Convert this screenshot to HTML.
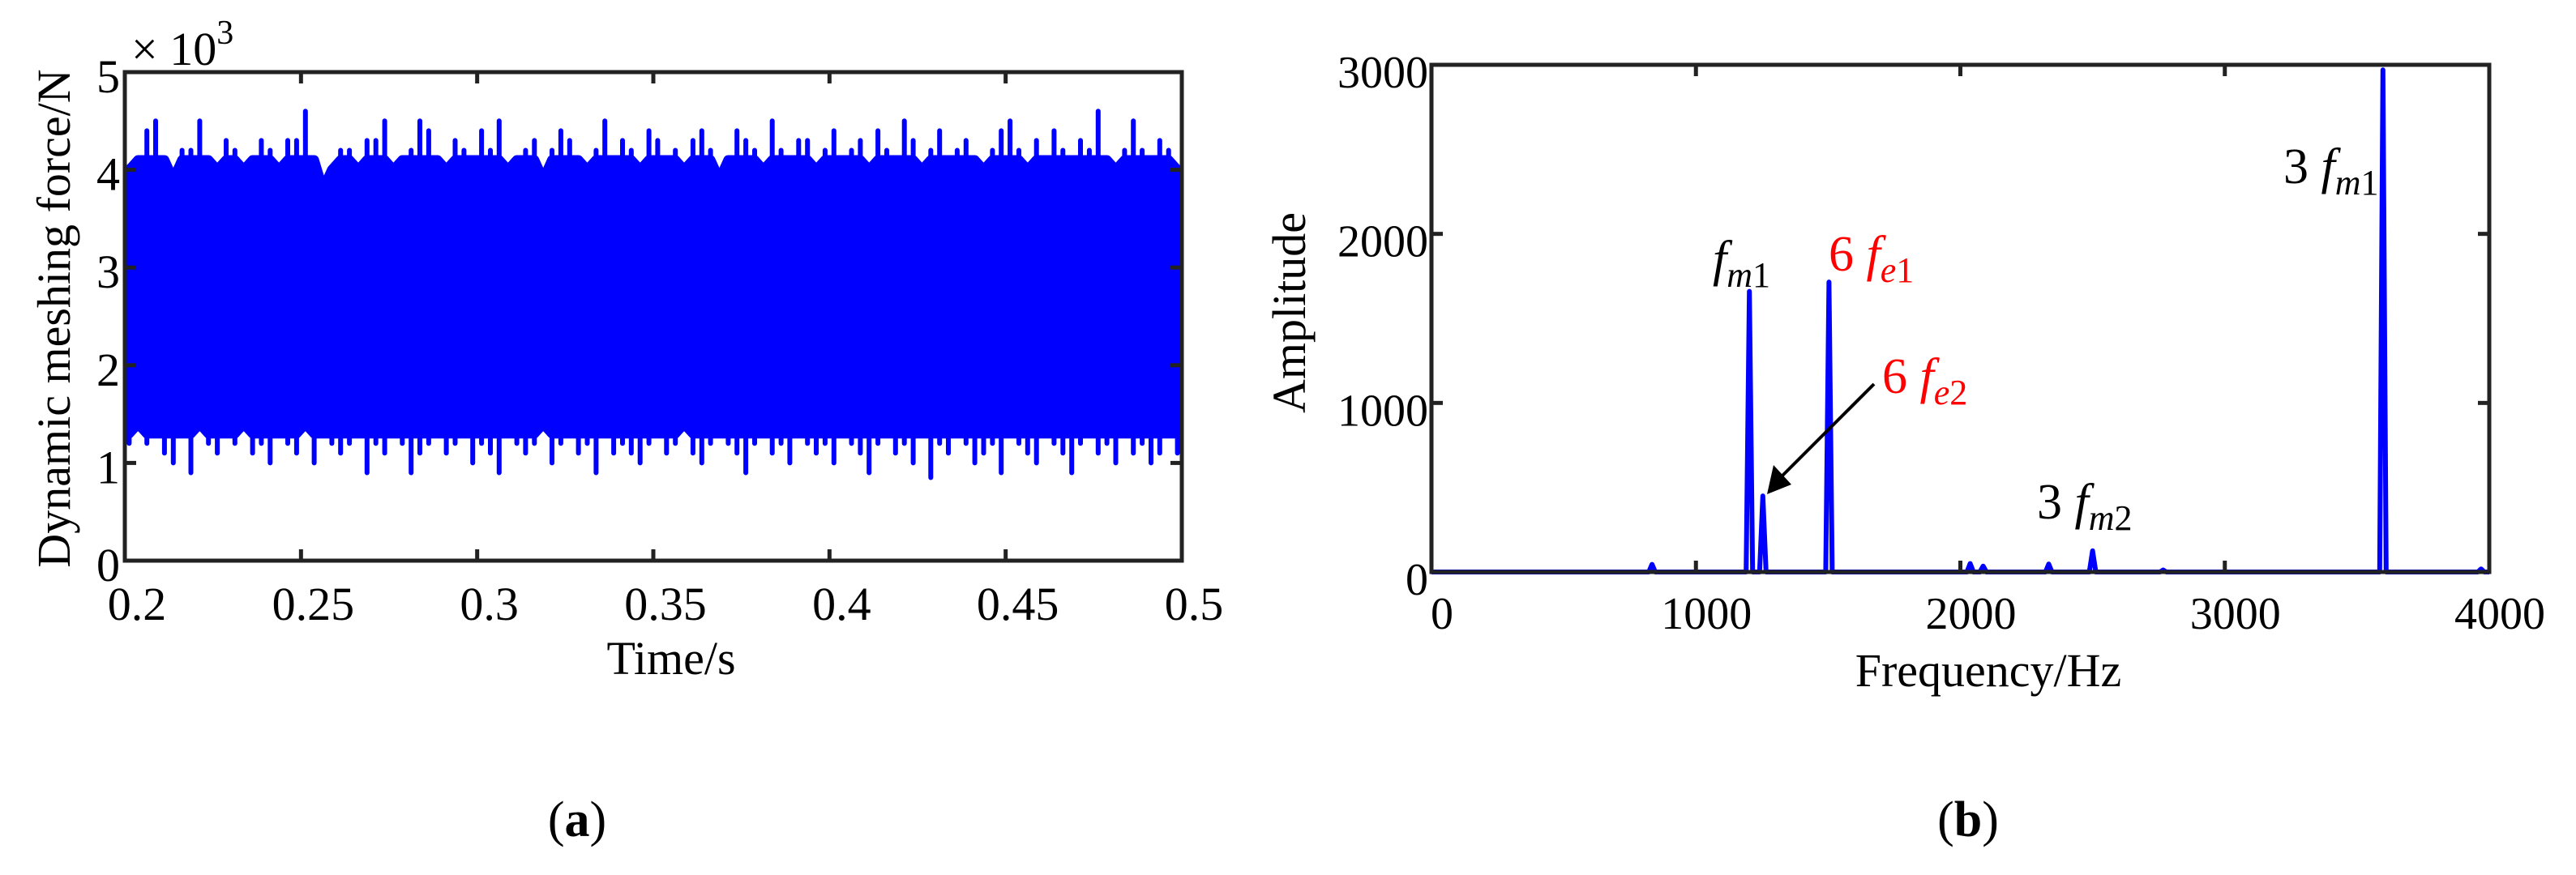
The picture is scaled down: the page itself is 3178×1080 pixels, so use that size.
<!DOCTYPE html>
<html><head><meta charset="utf-8">
<style>
html,body{margin:0;padding:0;background:#fff;}
svg{display:block;font-family:"Liberation Serif","Times New Roman",serif;}
svg text{font-family:"Liberation Serif","Times New Roman",serif;}
</style></head>
<body>
<svg id="fig" width="3178" height="1080" viewBox="0 0 3178 1080" xmlns="http://www.w3.org/2000/svg">
  <g id="panelA"></g>
  <g id="panelB"></g>
  <text x="712" y="1032" font-size="62" text-anchor="middle">(<tspan font-weight="bold">a</tspan>)</text>
  <text x="2428" y="1032" font-size="62" text-anchor="middle">(<tspan font-weight="bold">b</tspan>)</text>
</svg>
<script>
// ---------- Panel (a) data ----------
const aXTicks = [0.2, 0.25, 0.3, 0.35, 0.4, 0.45, 0.5];
const aXTickLabels = ["0.2", "0.25", "0.3", "0.35", "0.4", "0.45", "0.5"];
const aYTicks = [0, 1, 2, 3, 4, 5];
const aYTickLabels = ["0", "1", "2", "3", "4", "5"];
const aUpper = [4.0,4.1,4.4,4.5,4.1,3.9,4.2,4.2,4.5,4.1,4.0,4.3,4.2,4.0,4.1,4.3,4.2,4.0,4.3,4.3,4.6,4.1,3.8,4.0,4.2,4.2,4.0,4.3,4.3,4.5,4.0,4.1,4.2,4.5,4.4,4.1,4.0,4.3,4.2,4.1,
4.4,4.2,4.5,4.0,4.1,4.2,4.3,3.9,4.2,4.4,4.3,4.1,4.0,4.2,4.5,4.1,4.3,4.2,4.0,4.4,4.3,4.1,4.2,4.0,4.3,4.4,4.2,3.9,4.1,4.4,4.3,4.2,4.0,4.5,4.2,4.1,4.3,4.3,4.0,4.2,
4.4,4.1,4.2,4.3,4.0,4.4,4.2,4.1,4.5,4.3,4.0,4.2,4.4,4.1,4.2,4.3,4.1,4.0,4.2,4.4,4.5,4.2,4.0,4.3,4.1,4.4,4.2,4.1,4.3,4.2,4.6,4.1,4.0,4.2,4.5,4.2,4.1,4.3,4.2,4.0];
const aLower = [1.2,1.4,1.2,1.3,1.1,1.0,1.3,0.9,1.4,1.2,1.1,1.3,1.2,1.4,1.1,1.2,1.0,1.3,1.2,1.1,1.4,1.0,1.3,1.2,1.1,1.2,1.3,0.9,1.2,1.1,1.3,1.2,0.9,1.1,1.2,1.3,1.1,1.2,1.3,1.0,
1.2,1.1,0.9,1.3,1.2,1.1,1.2,1.4,1.0,1.2,1.3,1.1,1.2,0.9,1.3,1.1,1.2,1.1,1.0,1.2,1.3,1.1,1.2,1.4,1.1,1.0,1.2,1.3,1.2,1.1,0.9,1.2,1.3,1.1,1.2,1.0,1.3,1.2,1.1,1.2,
1.0,1.3,1.2,1.1,0.9,1.2,1.3,1.1,1.2,1.0,1.3,0.85,1.2,1.1,1.3,1.2,1.0,1.1,1.2,0.9,1.3,1.2,1.1,1.0,1.3,1.2,1.1,0.9,1.2,1.3,1.1,1.2,1.0,1.3,1.1,1.2,1.0,1.1,1.3,1.1];

// ---------- Panel (b) data ----------
const bXTicks = [0, 1000, 2000, 3000, 4000];
const bXTickLabels = ["0", "1000", "2000", "3000", "4000"];
const bYTicks = [0, 1000, 2000, 3000];
const bYTickLabels = ["0", "1000", "2000", "3000"];
const bPeakFreqs = [834, 1202, 1253, 1503, 2037, 2086, 2334, 2500, 2767, 3598, 3969];
const bPeakAmps  = [45, 1660, 450, 1715, 50, 35, 47, 125, 12, 2970, 18];

const NS = "http://www.w3.org/2000/svg";
function mk(tag, attrs, parent, text) {
  const e = document.createElementNS(NS, tag);
  for (const k in attrs) e.setAttribute(k, attrs[k]);
  if (text !== undefined) e.textContent = text;
  parent.appendChild(e);
  return e;
}

// ===== Panel A =====
(function(){
  const g = document.getElementById('panelA');
  const L = 154, R = 1458, T = 89, B = 692;
  const x = t => L + (t - 0.2) / 0.3 * (R - L);
  const y = v => B - v / 5 * (B - T);
  const n = aUpper.length;
  const step = (R - L) / n;
  let d = "";
  for (let i = 0; i < n; i++) {
    const xx = L + (i + 0.5) * step;
    d += (i ? " L" : "M") + xx.toFixed(1) + "," + y(Math.min(aUpper[i], 4.1)).toFixed(1);
  }
  for (let i = n - 1; i >= 0; i--) {
    const xx = L + (i + 0.5) * step;
    d += " L" + xx.toFixed(1) + "," + y(Math.max(aLower[i], 1.3)).toFixed(1);
  }
  d += " Z";
  const body = mk('path', {d: d, fill: '#0000ff', stroke: '#0000ff', 'stroke-width': 12, 'stroke-linejoin': 'round'}, g);
  
  
  let s = "";
  for (let i = 0; i < n; i++) {
    const xx = (L + (i + 0.5) * step).toFixed(1);
    s += " M" + xx + "," + y(aUpper[i]).toFixed(1) + " L" + xx + "," + y(aLower[i]).toFixed(1);
  }
  const sig = mk('path', {d: s, fill: 'none', stroke: '#0000ff', 'stroke-width': 6, 'stroke-linecap': 'round'}, g);
  
  
  const fr = mk('rect', {x: L, y: T, width: R - L, height: B - T, fill: 'none', stroke: '#222', 'stroke-width': 5}, g);
  
  
  aXTicks.forEach((t, i) => {
    const xx = x(t);
    mk('line', {x1: xx, x2: xx, y1: B, y2: B - 14, stroke: '#222', 'stroke-width': 5}, g);
    mk('line', {x1: xx, x2: xx, y1: T, y2: T + 14, stroke: '#222', 'stroke-width': 5}, g);
    const tl = mk('text', {x: xx + 15, y: 765, 'font-size': 58, 'text-anchor': 'middle'}, g, aXTickLabels[i]);
    
    
  });
  aYTicks.forEach((v, i) => {
    const yy = y(v);
    mk('line', {x1: L, x2: L + 14, y1: yy, y2: yy, stroke: '#222', 'stroke-width': 5}, g);
    mk('line', {x1: R, x2: R - 14, y1: yy, y2: yy, stroke: '#222', 'stroke-width': 5}, g);
    const tl = mk('text', {x: 148, y: yy + 25, 'font-size': 58, 'text-anchor': 'end'}, g, aYTickLabels[i]);
    
    
  });
  const ex = mk('text', {x: 162, y: 80, 'font-size': 58}, g);
  
  
  ex.innerHTML = '× 10<tspan font-size="42" dy="-26">3</tspan>';
  const xt = mk('text', {x: 828, y: 832, 'font-size': 58, 'text-anchor': 'middle'}, g, 'Time/s');
  
  
  const yt = mk('text', {x: 0, y: 0, 'font-size': 58, 'text-anchor': 'middle', transform: 'translate(86,393) rotate(-90)'}, g, 'Dynamic meshing force/N');
  
  
})();

// ===== Panel B =====
(function(){
  const g = document.getElementById('panelB');
  const L = 1766, R = 3071, T = 80, B = 706;
  const x = f => L + f / 4000 * (R - L);
  const y = v => B - v / 3000 * (B - T);
  let d = "M" + L + "," + y(0);
  bPeakFreqs.forEach((f, i) => {
    const xx = x(f);
    d += " L" + (xx - 4).toFixed(1) + "," + y(0) + " L" + xx.toFixed(1) + "," + y(bPeakAmps[i]).toFixed(1) + " L" + (xx + 4).toFixed(1) + "," + y(0);
  });
  d += " L" + R + "," + y(0);
  const sp = mk('path', {d: d, fill: 'none', stroke: '#0000ff', 'stroke-width': 6, 'stroke-linejoin': 'round'}, g);
  
  
  const fr = mk('rect', {x: L, y: T, width: R - L, height: B - T, fill: 'none', stroke: '#222', 'stroke-width': 5}, g);
  
  
  bXTicks.forEach((f, i) => {
    const xx = x(f);
    mk('line', {x1: xx, x2: xx, y1: B, y2: B - 14, stroke: '#222', 'stroke-width': 5}, g);
    mk('line', {x1: xx, x2: xx, y1: T, y2: T + 14, stroke: '#222', 'stroke-width': 5}, g);
    const tl = mk('text', {x: xx + 13, y: 776, 'font-size': 56, 'text-anchor': 'middle'}, g, bXTickLabels[i]);
    
    
  });
  bYTicks.forEach((v, i) => {
    const yy = y(v);
    mk('line', {x1: L, x2: L + 14, y1: yy, y2: yy, stroke: '#222', 'stroke-width': 5}, g);
    mk('line', {x1: R, x2: R - 14, y1: yy, y2: yy, stroke: '#222', 'stroke-width': 5}, g);
    const tl = mk('text', {x: 1762, y: yy + 28, 'font-size': 56, 'text-anchor': 'end'}, g, bYTickLabels[i]);
    
    
  });
  const xt = mk('text', {x: 2453, y: 847, 'font-size': 58, 'text-anchor': 'middle'}, g, 'Frequency/Hz');
  
  
  const yt = mk('text', {x: 0, y: 0, 'font-size': 58, 'text-anchor': 'middle', transform: 'translate(1610,386) rotate(-90)'}, g, 'Amplitude');
  
  

  function label(xp, yp, pre, sub, color, name) {
    const t = mk('text', {x: xp, y: yp, 'font-size': 62, fill: color}, g);
    
    
    t.innerHTML = (pre ? '<tspan>' + pre + '</tspan>' : '') + '<tspan font-style="italic">f</tspan><tspan font-size="44" dy="14"><tspan font-style="italic">' + sub[0] + '</tspan>' + sub.slice(1) + '</tspan>';
  }
  label(2113, 340, '', 'm1', '#000', 'annotation-fm1');
  label(2256, 334, '6 ', 'e1', '#ff0000', 'annotation-6fe1');
  label(2322, 485, '6 ', 'e2', '#ff0000', 'annotation-6fe2');
  label(2513, 640, '3 ', 'm2', '#000', 'annotation-3fm2');
  label(2817, 226, '3 ', 'm1', '#000', 'annotation-3fm1');
  const ar = mk('line', {x1: 2312, y1: 474, x2: 2196, y2: 590, stroke: '#000', 'stroke-width': 4}, g);
  
  
  const ah = mk('polygon', {points: '2180,610 2188,574 2210,598', fill: '#000'}, g);
  
  
})();
</script>
</body></html>
